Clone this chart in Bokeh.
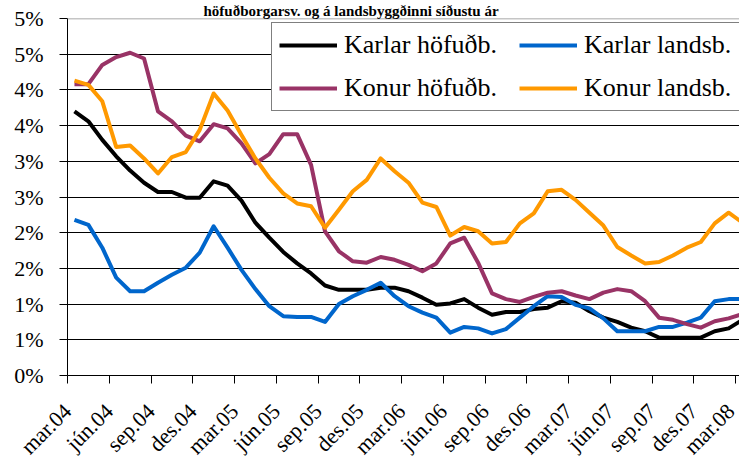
import math
from bokeh.plotting import figure
from bokeh.models import (FixedTicker, Legend, LegendItem, Span,
                          CustomJSTickFormatter)
from bokeh.embed import file_html
from bokeh.resources import INLINE

# ---- data (percent) ----
title_text = "höfuðborgarsv. og á landsbyggðinni síðustu ár"

x_tick_labels = ["mar.04", "jún.04", "sep.04", "des.04", "mar.05", "jún.05",
                 "sep.05", "des.05", "mar.06", "jún.06", "sep.06", "des.06",
                 "mar.07", "jún.07", "sep.07", "des.07", "mar.08"]
label_step = 3

y_ticks = [0, 0.5, 1, 1.5, 2, 2.5, 3, 3.5, 4, 4.5, 5]
y_tick_labels = ["0%", "1%", "1%", "2%", "2%", "3%", "3%", "4%", "4%", "5%", "5%"]

karlar_hofudb = [3.70, 3.56, 3.30, 3.07, 2.87, 2.70, 2.57, 2.57, 2.49, 2.49,
                 2.72, 2.66, 2.45, 2.14, 1.93, 1.73, 1.57, 1.43, 1.26, 1.20,
                 1.20, 1.20, 1.23, 1.23, 1.18, 1.09, 0.99, 1.01, 1.07, 0.95,
                 0.85, 0.89, 0.89, 0.93, 0.95, 1.04, 1.02, 0.90, 0.81, 0.75,
                 0.67, 0.62, 0.53, 0.53, 0.53, 0.53, 0.62, 0.66, 0.78]

karlar_landsb = [2.18, 2.11, 1.79, 1.37, 1.18, 1.18, 1.30, 1.41, 1.51, 1.72,
                 2.09, 1.79, 1.48, 1.21, 0.97, 0.83, 0.82, 0.82, 0.75, 1.00,
                 1.11, 1.20, 1.30, 1.11, 0.97, 0.88, 0.81, 0.60, 0.68, 0.66,
                 0.59, 0.65, 0.81, 0.97, 1.11, 1.10, 0.99, 0.94, 0.80, 0.62,
                 0.62, 0.62, 0.68, 0.68, 0.74, 0.81, 1.04, 1.07, 1.07]

konur_hofudb = [4.08, 4.08, 4.35, 4.46, 4.52, 4.44, 3.70, 3.56, 3.36, 3.28,
                3.52, 3.46, 3.25, 2.97, 3.10, 3.38, 3.38, 2.95, 2.02, 1.74,
                1.60, 1.58, 1.66, 1.62, 1.55, 1.46, 1.57, 1.85, 1.93, 1.58,
                1.15, 1.07, 1.03, 1.10, 1.16, 1.18, 1.12, 1.07, 1.16, 1.21,
                1.18, 1.04, 0.81, 0.78, 0.72, 0.67, 0.76, 0.80, 0.86]

konur_landsb = [4.13, 4.07, 3.84, 3.20, 3.22, 3.04, 2.83, 3.06, 3.13, 3.44,
                3.95, 3.71, 3.37, 3.04, 2.77, 2.55, 2.41, 2.37, 2.07, 2.32,
                2.58, 2.74, 3.04, 2.86, 2.70, 2.42, 2.36, 1.96, 2.08, 2.02,
                1.85, 1.87, 2.13, 2.27, 2.58, 2.60, 2.46, 2.28, 2.10, 1.80,
                1.68, 1.57, 1.59, 1.68, 1.79, 1.87, 2.13, 2.28, 2.14]

series_names = ["Karlar höfuðb.", "Karlar landsb.", "Konur höfuðb.", "Konur landsb."]
series_colors = ["#000000", "#0066CC", "#993366", "#FF9900"]

months = list(range(len(karlar_hofudb)))

FONT = "Liberation Serif"

p = figure(width=739, height=470, output_backend="svg", toolbar_location=None,
           x_range=(-0.5, 47.78), y_range=(0, 5),
           min_border_left=67, min_border_right=0, min_border_top=18,
           min_border_bottom=94)
p.outline_line_color = None
p.background_fill_color = "white"
p.border_fill_color = "white"

# title (shrunk so it fits in the strip above the plot)
p.title.text = title_text
p.title.text_font = FONT
p.title.text_font_style = "bold"
p.title.text_font_size = "15px"
p.title.text_color = "black"
p.title.align = "left"
p.title.offset = 136
p.title.standoff = 0

# grid
p.xgrid.visible = False
p.ygrid.ticker = FixedTicker(ticks=y_ticks[1:-1])
p.ygrid.grid_line_color = "#000000"
p.ygrid.grid_line_width = 1
p.add_layout(Span(location=y_ticks[-1], dimension="width",
                  line_color="#8c8c8c", line_width=1.5))

# y axis
p.yaxis.ticker = FixedTicker(ticks=y_ticks)
p.yaxis.formatter = CustomJSTickFormatter(
    args=dict(labels=y_tick_labels),
    code="return labels[Math.round(tick * 2)];")
p.yaxis.major_tick_out = 8
p.yaxis.major_tick_in = 0
p.yaxis.minor_tick_out = 0
p.yaxis.minor_tick_in = 0
p.yaxis.axis_line_color = "black"
p.yaxis.major_tick_line_color = "black"
p.yaxis.major_label_text_font = FONT
p.yaxis.major_label_text_font_size = "22px"
p.yaxis.major_label_text_color = "black"
p.yaxis.major_label_standoff = 16

# x axis: ticks between months, a label every 3rd month
x_ticks = [months[0] - 0.5 + label_step * k for k in range(len(x_tick_labels))]
p.xaxis.ticker = FixedTicker(ticks=x_ticks)
p.xaxis.formatter = CustomJSTickFormatter(
    args=dict(labels=x_tick_labels, step=label_step),
    code="return labels[Math.round((tick + 0.5) / step)];")
p.xaxis.major_tick_out = 8
p.xaxis.major_tick_in = 0
p.xaxis.minor_tick_out = 0
p.xaxis.minor_tick_in = 0
p.xaxis.axis_line_color = "black"
p.xaxis.major_tick_line_color = "black"
p.xaxis.major_label_orientation = math.pi / 4
p.xaxis.major_label_text_font = FONT
p.xaxis.major_label_text_font_size = "22px"
p.xaxis.major_label_text_color = "black"
p.xaxis.major_label_standoff = 24

renderers = []
for vals, col in zip([karlar_hofudb, karlar_landsb, konur_hofudb, konur_landsb],
                     series_colors):
    r = p.line(months, vals, line_color=col, line_width=4, line_join="round")
    renderers.append(r)

legend = Legend(items=[LegendItem(label=n, renderers=[r])
                       for n, r in zip(series_names, renderers)],
                location=(204, 264), orientation="horizontal", ncols=2)
legend.label_text_font = FONT
legend.label_text_font_size = "26px"
legend.label_text_color = "black"
legend.glyph_width = 58
legend.glyph_height = 20
legend.label_standoff = 7
legend.label_width = 162
legend.padding = 7
legend.spacing = 13
legend.margin = 0
legend.border_line_color = "black"
legend.border_line_width = 1
legend.background_fill_color = "white"
legend.background_fill_alpha = 1
p.add_layout(legend)

open("out.html", "w").write(file_html(p, INLINE))
